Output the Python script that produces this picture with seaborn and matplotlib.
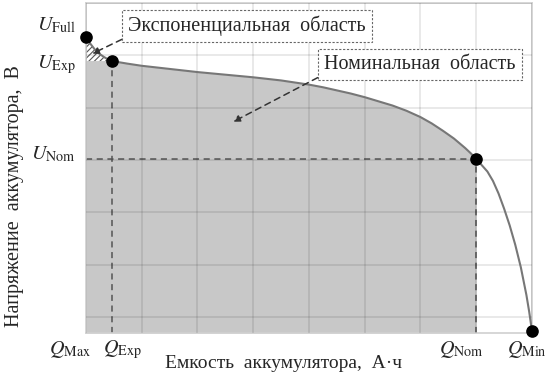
import numpy as np
import pandas as pd
import seaborn as sns
import matplotlib.pyplot as plt

# discharge curve (grid units)
cap = [0, 0.08, 0.16, 0.24, 0.32, 0.40, 0.47, 0.75, 1.0, 1.5, 2.0, 2.5, 3.0, 3.5,
       4.0, 4.25, 4.5, 4.75, 5.0, 5.25, 5.5, 5.75, 6.0, 6.2, 6.4, 6.6, 6.8, 6.9,
       7.0, 7.1, 7.2, 7.3, 7.4, 7.5, 7.6, 7.7, 7.8, 7.9, 7.95, 8.0]
volt = [5.35, 5.22, 5.11, 5.03, 4.97, 4.92, 4.89, 4.84, 4.80, 4.74, 4.68, 4.63,
        4.58, 4.52, 4.44, 4.39, 4.33, 4.27, 4.20, 4.12, 4.04, 3.94, 3.82, 3.70,
        3.56, 3.41, 3.23, 3.13, 3.02, 2.90, 2.78, 2.60, 2.36, 2.07, 1.75, 1.38,
        0.95, 0.42, 0.10, -0.27]

# key points: Full, Exp, Nom, Min
pt_q = [0, 0.47, 7.0, 8.0]
pt_u = [5.35, 4.89, 3.02, -0.27]
u_labels = [r'$U_{\mathrm{Full}}$', r'$U_{\mathrm{Exp}}$', r'$U_{\mathrm{Nom}}$']
q_labels = [r'$Q_{\mathrm{Max}}$', r'$Q_{\mathrm{Exp}}$', r'$Q_{\mathrm{Nom}}$', r'$Q_{\mathrm{Min}}$']

df = pd.DataFrame({'cap': cap, 'volt': volt})

sns.set_theme(style='whitegrid')
plt.rcParams['font.family'] = ['Liberation Serif', 'DejaVu Serif']
plt.rcParams['mathtext.fontset'] = 'stix'
plt.rcParams['hatch.linewidth'] = 0.8

fig = plt.figure(figsize=(5.49, 3.84), dpi=100)
ax = fig.add_axes([0.1566, 0.1328, 0.8124, 0.8594])
ymin = -0.306
ax.set_xlim(0, 8)
ax.set_ylim(ymin, 6)

# gray nominal area under the curve up to Q_Nom
nom = df[df['cap'] <= pt_q[2]]
ax.fill_between(nom['cap'], ymin, nom['volt'], color='#c8c8c8', lw=0, zorder=1)

# hatched exponential zone
exp = df[df['cap'] <= pt_q[1]]
ax.fill_between(exp['cap'], pt_u[1], exp['volt'], facecolor='white',
                edgecolor='#555555', hatch='//////', lw=0, zorder=1.5)

sns.lineplot(data=df, x='cap', y='volt', color='#777777', lw=1.5, ax=ax, zorder=3)

# dashed guides
dash = dict(color='#555555', lw=1.1, ls=(0, (4, 3)), zorder=2.5)
ax.plot([pt_q[1], pt_q[1]], [ymin, pt_u[1]], **dash)
ax.plot([0, pt_q[2]], [pt_u[2], pt_u[2]], **dash)
ax.plot([pt_q[2], pt_q[2]], [ymin, pt_u[2]], **dash)

sc = ax.scatter(pt_q, pt_u, s=65, color='black', zorder=5)
sc.set_clip_on(False)

# grid above fill
ax.set_xticks(range(0, 9))
ax.set_yticks(range(0, 7))
ax.grid(True, color='black', alpha=0.1, lw=1.2)
ax.set_axisbelow(False)
ax.tick_params(length=0, labelbottom=False, labelleft=False)
ax.set_xlabel('')
ax.set_ylabel('')
for s in ax.spines.values():
    s.set_color('#d0d0d0')
    s.set_linewidth(1.2)

# point labels
u_y = [5.58, 4.82, 3.10]
for lab, yy in zip(u_labels, u_y):
    ax.text(-0.18, yy, lab, ha='right', va='center', fontsize=14.5, clip_on=False)
q_x = [-0.29, 0.66, 6.73, 7.91]
for lab, xx in zip(q_labels, q_x):
    ax.text(xx, -0.63, lab, ha='center', va='center', fontsize=14.5, clip_on=False)

box = dict(boxstyle='square,pad=0.3', fc='white', ec='#666666', ls=(0, (2, 1.5)), lw=0.8)
arr = dict(arrowstyle='-|>', ls=(0, (4, 3)), color='#333333', lw=1.1,
           mutation_scale=10, relpos=(0, 0), shrinkA=0, shrinkB=0)
ax.annotate('Экспоненциальная  область', xy=(0.11, 5.03), xytext=(2.89, 5.56),
            ha='center', va='center', fontsize=14.5, bbox=box, arrowprops=arr,
            zorder=6)
ax.annotate('Номинальная  область', xy=(2.64, 3.73), xytext=(5.99, 4.82),
            ha='center', va='center', fontsize=14.5, bbox=box, arrowprops=arr,
            zorder=6)

fig.text(283 / 549, 1 - 363 / 384, 'Емкость  аккумулятора,  А·ч',
         ha='center', va='center', fontsize=14)
fig.text(15 / 549, 1 - 196 / 384, 'Напряжение  аккумулятора,  В',
         ha='center', va='center', rotation=90, fontsize=14.5)

fig.savefig('out.png', dpi=100, facecolor='white')
